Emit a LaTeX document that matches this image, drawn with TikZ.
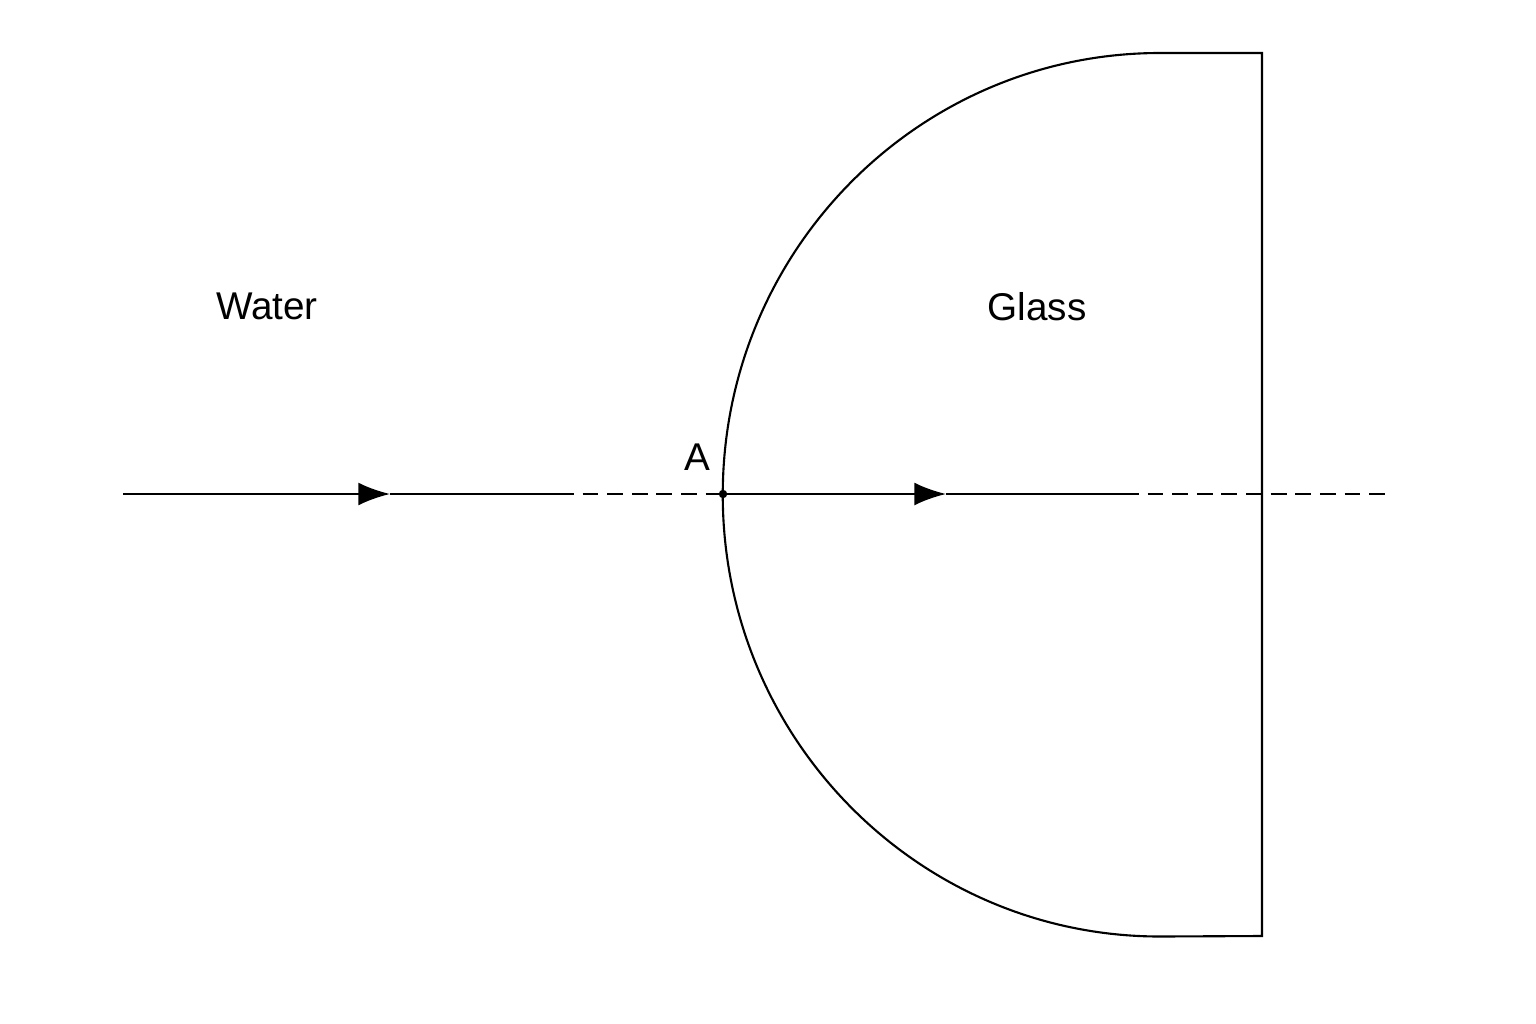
\documentclass[tikz,border=0pt]{standalone}
\usepackage{fontspec}
\setmainfont{Liberation Sans}
\usetikzlibrary{arrows.meta}
\tikzset{ray/.style={semithick}, dashray/.style={semithick, dash pattern=on 4.5pt off 2.5pt},
  lbl/.style={font=\fontsize{11}{13}\selectfont, inner sep=0pt}}
\begin{document}
\begin{tikzpicture}[x=0.01cm,y=-0.01cm]
        \useasboundingbox (0,0) rectangle (1536,1024);
        % glass block
        \draw[semithick] (1262,53) -- (1160,53) arc[start angle=90, end angle=270, x radius=4.37cm, y radius=4.415cm] -- (1262,936) -- cycle;
        % ray points
        \coordinate (start) at (123,494);
        \coordinate (tipone) at (390,494);
        \coordinate (endone) at (558,494);
        \coordinate (A) at (723,494);
        \coordinate (tiptwo) at (946,494);
        \coordinate (endtwo) at (1123,494);
        \coordinate (far) at (1390,494);
        % rays
        \draw[ray, -{Latex[length=9pt,width=6.5pt]}] (start) -- (tipone);
        \draw[ray] (tipone) -- (endone);
        \draw[dashray] (endone) -- (A);
        \draw[ray, -{Latex[length=9pt,width=6.5pt]}] (A) -- (tiptwo);
        \draw[ray] (tiptwo) -- (endtwo);
        \draw[dashray] (endtwo) -- (far);
        \fill (A) circle (1.2pt);
        % labels
        \node[lbl] (water) at (267,306) {Water};
        \node[lbl] (glass) at (1037,307) {Glass};
        \node[lbl] (alabel) at (697,457) {A};
\end{tikzpicture}
\end{document}
